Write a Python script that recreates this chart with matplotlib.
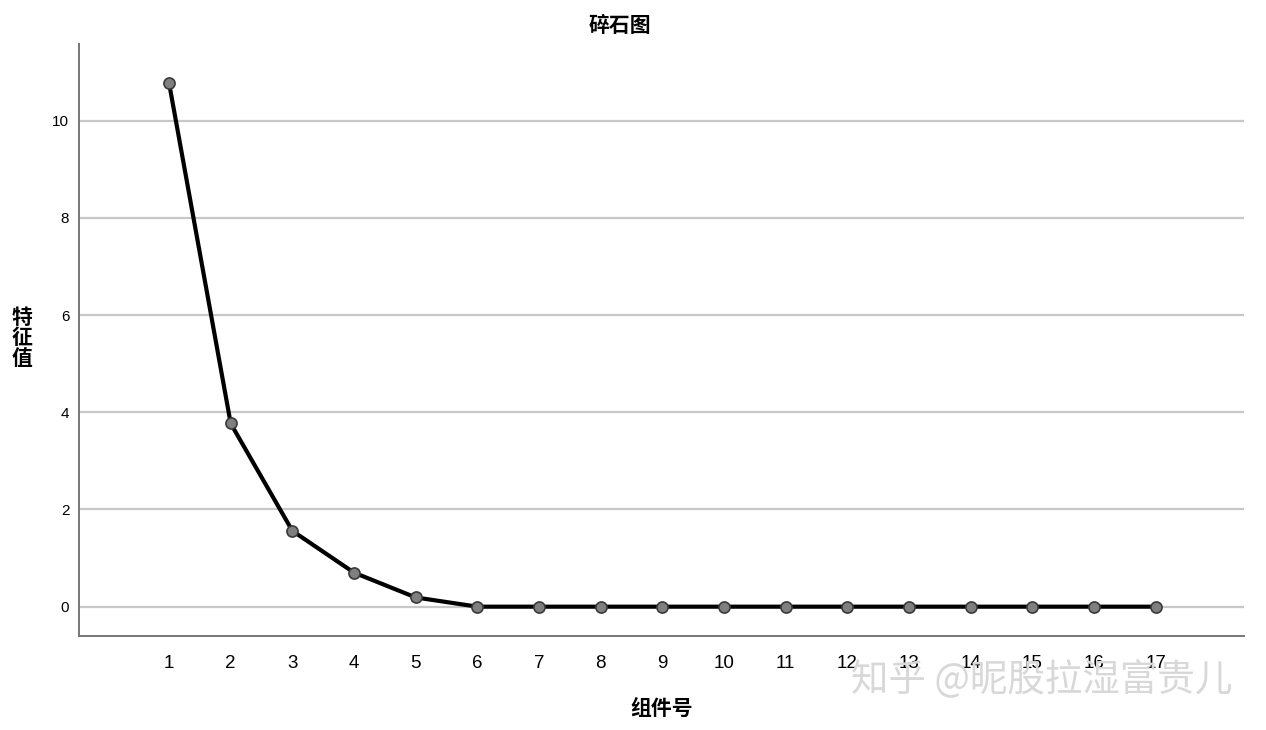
import matplotlib
matplotlib.use("Agg")
import matplotlib.pyplot as plt

components = list(range(1, 18))
eigenvalues = [10.78, 3.77, 1.56, 0.70, 0.19, 0.0, 0.0, 0.0, 0.0, 0.0, 0.0, 0.0, 0.0, 0.0, 0.0, 0.0, 0.0]
y_ticks = [0, 2, 4, 6, 8, 10]
title = "碎石图"
xlabel = "组件号"
ylabel = "特\n征\n值"
watermark = "知乎 @昵股拉湿富贵儿"

cjk = ['Noto Sans CJK SC', 'DejaVu Sans']
plt.rcParams['font.family'] = ['Liberation Sans', 'Noto Sans CJK SC', 'DejaVu Sans']

fig = plt.figure(figsize=(12.66, 7.30), dpi=100)
ax = fig.add_axes([0.0624, 0.129, 0.9202, 0.8107])

for yv in y_ticks:
    ax.axhline(yv, color='#c8c8c8', lw=1.6, zorder=1)

ax.plot(components, eigenvalues, color='black', lw=3.0, zorder=3,
        marker='o', markersize=8, markerfacecolor='#7f7f7f',
        markeredgecolor='#3a3a3a', markeredgewidth=1.2)

ax.set_xlim(-0.46, 18.43)
ax.set_ylim(-0.6, 11.58)
ax.set_xticks(components)
ax.set_xticklabels([str(c) for c in components], fontsize=13.5)
ax.set_yticks(y_ticks)
ax.set_yticklabels([str(v) for v in y_ticks], fontsize=11)
ax.tick_params(axis='both', length=0)
ax.tick_params(axis='x', pad=14)
ax.tick_params(axis='y', pad=7)

for s in ['top', 'right']:
    ax.spines[s].set_visible(False)
for s in ['left', 'bottom']:
    ax.spines[s].set_color('#777777')
    ax.spines[s].set_linewidth(1.4)

fig.text(0.490, 0.965, title, ha='center', va='center', fontsize=15,
         fontweight='bold', family=cjk)
fig.text(0.523, 0.030, xlabel, ha='center', va='center', fontsize=15,
         fontweight='bold', family=cjk)
fig.text(0.017, 0.537, ylabel, ha='center', va='center', fontsize=15,
         fontweight='bold', family=cjk, linespacing=0.95)
fig.text(0.823, 0.068, watermark, ha='center', va='center', fontsize=27,
         color='#d8d8d8', family=cjk, zorder=10)

fig.savefig("out.png", dpi=100, facecolor='white')
